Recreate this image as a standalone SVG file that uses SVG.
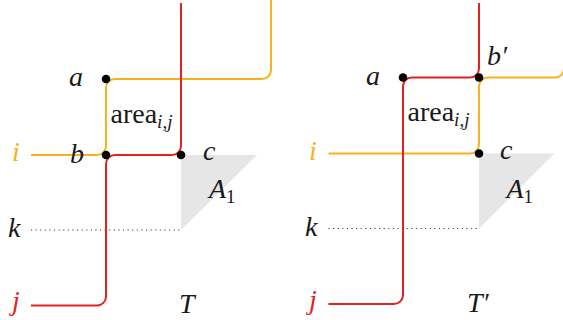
<svg xmlns="http://www.w3.org/2000/svg" width="563" height="320" viewBox="0 0 563 320">
<style>
text{font-family:'Liberation Serif','DejaVu Serif',serif}
.lbl{font-size:28px;font-style:italic;fill:#1a1a1a}
.rm{font-size:28px;fill:#1a1a1a}
.sub{font-size:19px}
.subr{font-size:19px;font-style:normal}
.or{stroke:#F8B21A;stroke-width:2;fill:none}
.rd{stroke:#E3211F;stroke-width:2;fill:none}
.dot{fill:#000}
.tri{fill:#E6E6E6}
.dotted{stroke:#333;stroke-width:1.1;stroke-dasharray:1.1 3.5;fill:none}
</style>
<rect width="563" height="320" fill="#fff"/>
<g id="regionA1-left"><polygon class="tri" points="181,155 257,155 181,230"/></g>
<g id="regionA1-right"><polygon class="tri" points="479,153.5 554.5,153.5 479,228.5"/></g>
<g id="connectors">
<path class="dotted" d="M31,230 H181"/>
<path class="dotted" d="M328.5,228.5 H479"/>
<path class="or" d="M31,155 H97 A9,9 0 0 0 106,146 V88 A9,9 0 0 1 115,79 H262 A9,9 0 0 0 271,70 V0"/>
<path class="rd" d="M31,305.5 H97 A9,9 0 0 0 106,296.5 V164 A9,9 0 0 1 115,155 H172 A9,9 0 0 0 181,146 V3"/>
<path class="or" d="M328.5,153.5 H470 A9,9 0 0 0 479,144.5 V86.5 A9,9 0 0 1 488,77.5 H555 A9,9 0 0 0 564,68.5 V0"/>
<path class="rd" d="M328.5,304 H394 A9,9 0 0 0 403,295 V86.5 A9,9 0 0 1 412,77.5 H470 A9,9 0 0 0 479,68.5 V3"/>
</g>
<g id="left">
<g id="a-left"><circle class="dot" cx="106" cy="79" r="4.3"/><text class="lbl" x="69" y="86">a</text></g>
<g id="b-left"><circle class="dot" cx="106" cy="155" r="4.3"/><text class="lbl" x="70" y="163">b</text></g>
<g id="c-left"><circle class="dot" cx="181" cy="155" r="4.3"/><text class="lbl" x="203" y="160">c</text></g>
<g id="area-left"><text class="rm" x="110.5" y="122.5">area<tspan class="sub" font-style="italic" dy="5">i,j</tspan></text></g>
<g id="A1-left"><text class="lbl" x="209" y="198">A<tspan class="subr" dy="5">1</tspan></text></g>
<g id="i-left"><text class="lbl" x="12" y="161" style="fill:#F8B21A">i</text></g>
<g id="j-left"><text class="lbl" x="12" y="310" style="fill:#E3211F">j</text></g>
<g id="k-left"><text class="lbl" x="8" y="237">k</text></g>
<g id="T-left"><text class="lbl" x="179" y="313">T</text></g>
</g>
<g id="right">
<g id="a-right"><circle class="dot" cx="403" cy="77.5" r="4.3"/><text class="lbl" x="366" y="84.5">a</text></g>
<g id="bp-right"><circle class="dot" cx="479" cy="77.5" r="4.3"/><text class="lbl" x="487" y="65">b′</text></g>
<g id="c-right"><circle class="dot" cx="479" cy="153.5" r="4.3"/><text class="lbl" x="500" y="159">c</text></g>
<g id="area-right"><text class="rm" x="407.5" y="120.5">area<tspan class="sub" font-style="italic" dy="5">i,j</tspan></text></g>
<g id="A1-right"><text class="lbl" x="506.5" y="197.5">A<tspan class="subr" dy="5">1</tspan></text></g>
<g id="i-right"><text class="lbl" x="309" y="159.5" style="fill:#F8B21A">i</text></g>
<g id="j-right"><text class="lbl" x="309" y="308.5" style="fill:#E3211F">j</text></g>
<g id="k-right"><text class="lbl" x="305" y="235.5">k</text></g>
<g id="T-right"><text class="lbl" x="467" y="312">T′</text></g>
</g>
</svg>
